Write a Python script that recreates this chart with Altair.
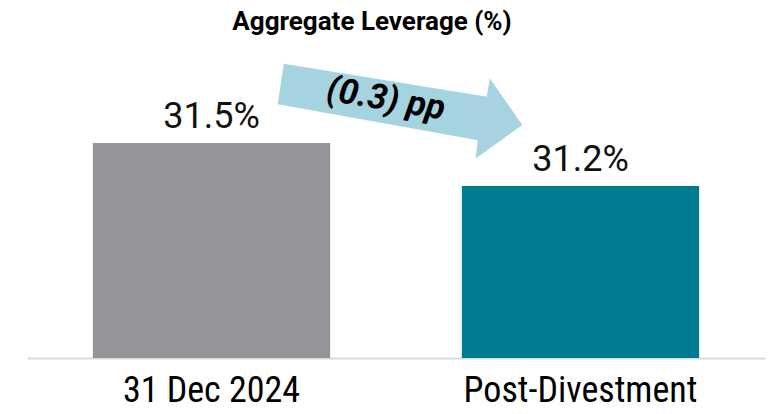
import altair as alt
import pandas as pd

# ---- data ----
categories = ["31 Dec 2024", "Post-Divestment"]
values = [31.5, 31.2]
labels = ["31.5%", "31.2%"]
bar_colors = ["#939598", "#007C91"]

# arrow annotation outline (x in category units 0..2, y in % units)
arrow_x = [0.6965, 1.2466, 1.2547, 1.3415, 1.2168, 1.2222, 0.6802, 0.6965]
arrow_y = [32.051, 31.821, 31.947, 31.626, 31.395, 31.521, 31.772, 32.051]
change_text = ["(0.3) pp"]
change_x = [0.973]
change_y = [31.807]

title_text = "Aggregate Leverage (%)"
y_base = 30.0
y_top = 32.149

bars_df = pd.DataFrame({"cat": categories, "val": values, "lbl": labels, "col": bar_colors})
arrow_df = pd.DataFrame({"i": list(range(len(arrow_x))), "ax": arrow_x, "ay": arrow_y})
chg_df = pd.DataFrame({"t": change_text, "cx": change_x, "cy": change_y})

W, H = 738, 308
label_font = "'Roboto Condensed', 'Liberation Sans Narrow', Roboto"

band_scale = alt.Scale(domain=categories, paddingInner=0.357, paddingOuter=0.1785)
q_scale = alt.Scale(domain=[0, 2], nice=False, zero=False)
y_scale = alt.Scale(domain=[y_base, y_top], zero=False, nice=False)

bars = alt.Chart(bars_df).mark_bar().encode(
    x=alt.X(
        "cat:N", scale=band_scale,
        axis=alt.Axis(
            title=None, labelAngle=0, ticks=False, labelColor="#000000",
            labelFont=label_font, labelFontSize=36, labelPadding=15, labelLimit=0,
            domainColor="#d9d9d9", domainWidth=2,
        ),
    ),
    y=alt.Y("val:Q", scale=y_scale, axis=None),
    y2=alt.datum(y_base),
    color=alt.Color("col:N", scale=None),
)

vals = alt.Chart(bars_df).mark_text(
    font="Roboto", fontSize=36, color="#111111", baseline="alphabetic", dy=-15
).encode(
    x=alt.X("cat:N", scale=band_scale, axis=None),
    y=alt.Y("val:Q", scale=y_scale, axis=None),
    text="lbl:N",
)

arrow = alt.Chart(arrow_df).mark_line(
    fill="#A5D3DF", stroke="#A5D3DF", strokeWidth=0.5, interpolate="linear"
).encode(
    x=alt.X("ax:Q", scale=q_scale, axis=None),
    y=alt.Y("ay:Q", scale=y_scale, axis=None),
    order="i:Q",
)

chg = alt.Chart(chg_df).mark_text(
    font="Roboto", fontSize=35, fontWeight="bold", fontStyle="italic",
    color="#000000", angle=9.5, align="center", baseline="middle",
).encode(
    x=alt.X("cx:Q", scale=q_scale, axis=None),
    y=alt.Y("cy:Q", scale=y_scale, axis=None),
    text="t:N",
)

chart = alt.layer(arrow, bars, vals, chg).resolve_scale(x="independent").properties(
    width=W,
    height=H,
    autosize=alt.AutoSizeParams(type="none"),
    padding={"left": 19, "top": 42, "right": 7, "bottom": 48},
    title=alt.TitleParams(
        title_text, font="Roboto", fontSize=26, fontWeight="bold", color="#000000",
        anchor="middle", dx=-24, dy=26, offset=20, baseline="alphabetic", frame="group",
    ),
).configure_view(stroke=None).configure_axis(grid=False)

chart.save("out.html", embed_options={"renderer": "svg", "actions": False})
